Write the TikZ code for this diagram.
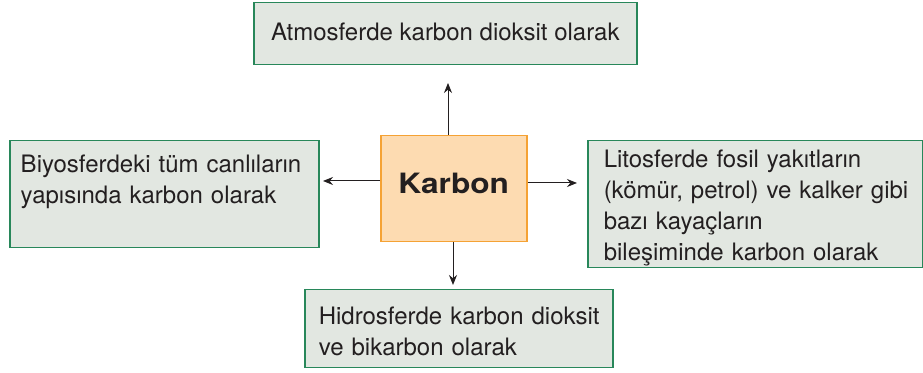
\documentclass[tikz,border=0pt]{standalone}
\usepackage{fontspec}
\setmainfont{TeX Gyre Heros}
\newfontfamily\genisfont[FakeStretch=1.13]{TeX Gyre Heros}
\hyphenpenalty=10000
\hbadness=10000
\hfuzz=20pt
\usetikzlibrary{arrows.meta, positioning}
\definecolor{kurefill}{RGB}{226,231,225}
\definecolor{kureline}{RGB}{40,135,90}
\definecolor{cfill}{RGB}{253,219,177}
\definecolor{cline}{RGB}{245,162,52}
\definecolor{ink}{RGB}{35,31,32}
\tikzset{
    kure/.style n args={4}{
        draw=kureline, fill=kurefill, line width=0.75pt, anchor=north west,
        text=ink, font=\fontsize{12}{15.4}\selectfont, align=left,
        text width=#1, inner xsep=#2, inner ysep=0pt,
        text height=#3, text depth=#4
    },
    karbonbox/.style={
        draw=cline, fill=cfill, line width=0.75pt, anchor=north west,
        text=ink, font=\genisfont\bfseries\fontsize{14}{16}\selectfont,
        minimum width=73pt, inner xsep=0pt, inner ysep=0pt,
        text height=29pt, text depth=24pt
    },
    ok/.style={draw=ink, line width=0.5pt, -{Stealth[length=5pt,width=4pt]}}
}
\begin{document}
\begin{tikzpicture}[x=0.5pt, y=-0.5pt]
    \useasboundingbox (0,0) rectangle (923,373);
    % kutular
    \node[karbonbox] (karbon) at (380,135) {Karbon};
    \node[draw=kureline, fill=kurefill, line width=0.75pt, anchor=north west,
          text=ink, font=\fontsize{12}{15}\selectfont,
          minimum width=191.5pt, inner xsep=0pt, inner ysep=0pt,
          text height=19pt, text depth=12pt] (atmos) at (253,2) {Atmosferde karbon dioksit olarak};
    \node[kure={143.5pt}{5.5pt}{16pt}{37.5pt}] (biyos) at (9,140)
        {Biyosferdeki tüm canlıların\\yapısında karbon olarak};
    \node[kure={151.5pt}{8pt}{13.5pt}{50pt}] (litos) at (587,140)
        {Litosferde fosil yakıtların\\(kömür,~petrol)~ve~kalker~gibi\\bazı kayaçların\\bileşiminde karbon olarak};
    \node[kure={140pt}{7pt}{17.5pt}{21.5pt}] (hidros) at (304,289)
        {Hidrosferde~karbon~dioksit\\ve bikarbon olarak};
    % oklar
    \coordinate (up) at (448,83);
    \coordinate (lt) at (323,181);
    \coordinate (rt) at (577,183);
    \coordinate (dn) at (453,285);
    \draw[ok] (karbon.north -| up) -- (up);
    \draw[ok] (karbon.west |- lt) -- (lt);
    \draw[ok] (karbon.east |- rt) -- (rt);
    \draw[ok] (karbon.south -| dn) -- (dn);
\end{tikzpicture}
\end{document}
